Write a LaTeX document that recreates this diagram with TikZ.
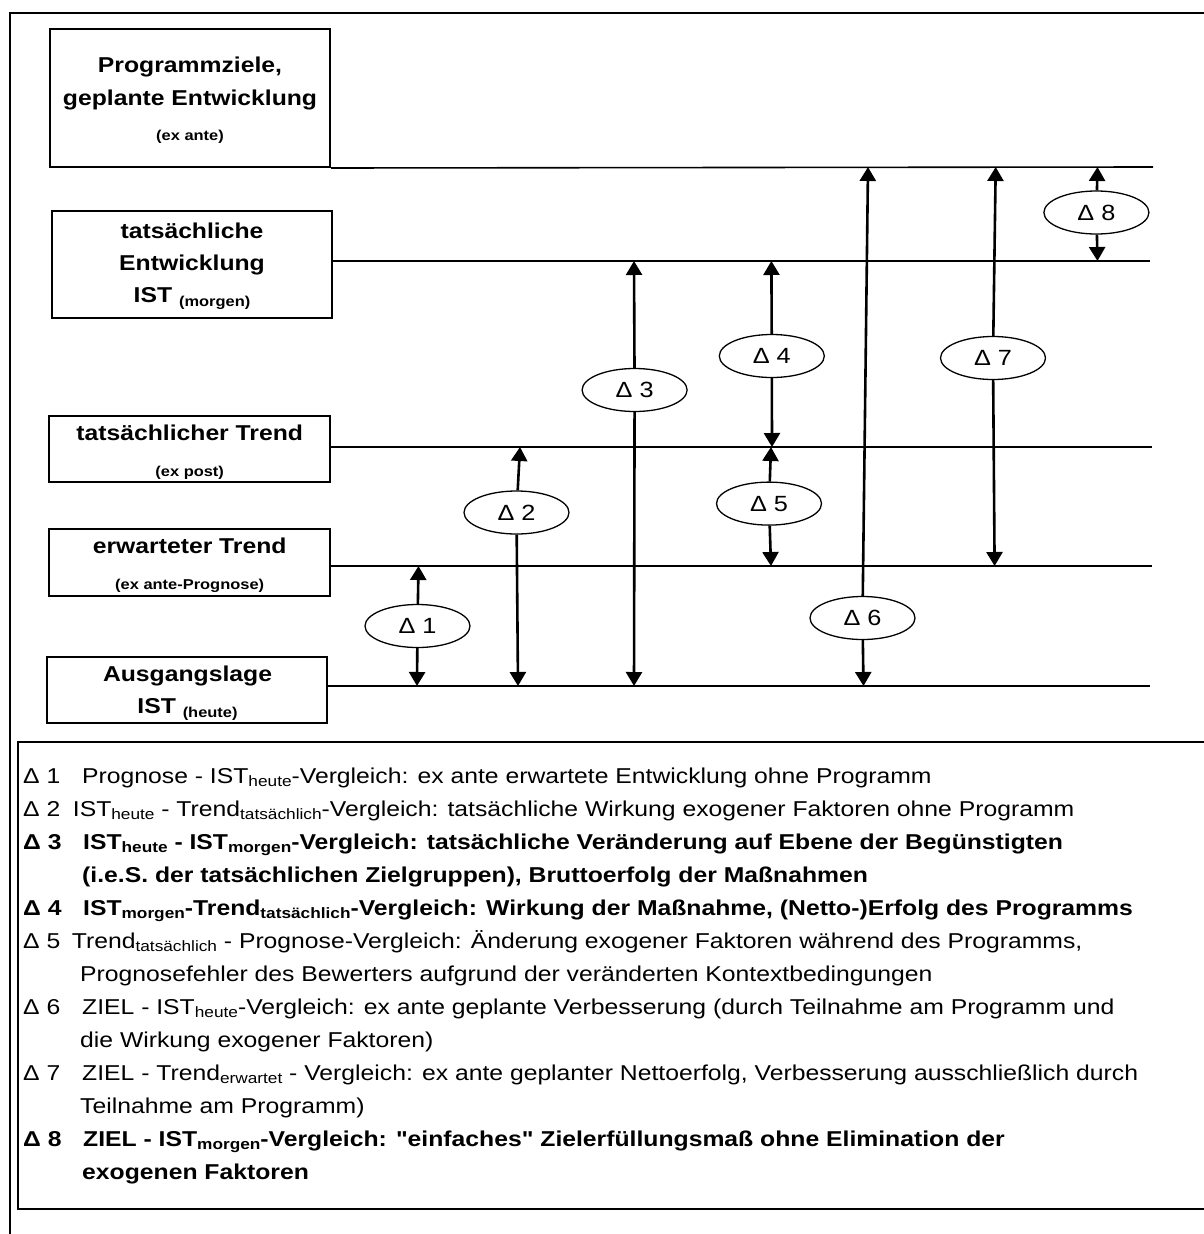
\documentclass[tikz,border=0pt]{standalone}
\usepackage{fontspec}
\setmainfont{Liberation Sans}[FakeStretch=1.15, Ligatures=TeXOff]
\usetikzlibrary{shapes.geometric,arrows.meta}
% lowered small index text in the legend and in the boxes
\newcommand{\lsub}[1]{\raisebox{-3.5pt}{\fontsize{15}{15}\selectfont #1}}
\newcommand{\bsub}[1]{\raisebox{-4pt}{\fontsize{14.3}{14}\selectfont\bfseries #1}}
\begin{document}
\begin{tikzpicture}[x=1pt,y=-1pt,
  frame/.style={line width=2.2pt},
  stagebox/.style={draw, line width=2pt, inner sep=0pt},
  level/.style={line width=1.6pt},
  title/.style={font=\fontsize{21.5}{24}\selectfont\bfseries, anchor=base, inner sep=0pt},
  note/.style={font=\fontsize{14.3}{16}\selectfont\bfseries, anchor=base, inner sep=0pt},
  delta/.style={ellipse, draw, line width=1.3pt, fill=white, minimum width=105pt,
    minimum height=43pt, inner sep=0pt, font=\fontsize{22}{24}\selectfont},
  gap/.style={line width=2.6pt, -{Triangle[width=16pt,length=14pt]}},
  legtext/.style={anchor=base west, inner sep=0pt, font=\fontsize{21.5}{24}\selectfont},
  legbold/.style={legtext, font=\fontsize{21.5}{24}\selectfont\bfseries}]
\useasboundingbox (0,0) rectangle (1203,1234);

% outer frame
\draw[frame] (10,1240) -- (10,13) -- (1210,13);

% stage boxes
\node[stagebox, minimum width=280pt, minimum height=138pt] (box1) at (190,98) {};
\node[stagebox, minimum width=280pt, minimum height=107.6pt] (box2) at (191.7,264.5) {};
\node[stagebox, minimum width=280.7pt, minimum height=66.3pt] (box3) at (189.7,448.85) {};
\node[stagebox, minimum width=280.7pt, minimum height=66.7pt] (box4) at (189.7,562.35) {};
\node[stagebox, minimum width=280pt, minimum height=66.6pt] (box5) at (187.3,690) {};

\node[title] (t1a) at (190,72.7) {Programmziele,};
\node[title] (t1b) at (190,105.3) {geplante Entwicklung};
\node[note]  (t1c) at (190,140.7) {(ex ante)};
\node[title] (t2a) at (192,238.3) {tatsächliche};
\node[title] (t2b) at (192,270.7) {Entwicklung};
\node[title] (t2c) at (192,302.7) {IST \bsub{(morgen)}};
\node[title] (t3a) at (189.7,440) {tatsächlicher Trend};
\node[note]  (t3b) at (189.7,476) {(ex post)};
\node[title] (t4a) at (189.7,553.3) {erwarteter Trend};
\node[note]  (t4b) at (189.7,589.3) {(ex ante-Prognose)};
\node[title] (t5a) at (187.5,681) {Ausgangslage};
\node[title] (t5b) at (187.5,713.3) {IST \bsub{(heute)}};

% level lines
\coordinate (l1) at (1153,167);
\coordinate (l2) at (1150,261);
\coordinate (l3) at (1152,447);
\coordinate (l4) at (1152,566);
\coordinate (l5) at (1150,686);
\draw[level] (box1.south east) -- (l1);
\draw[level] (box2.east |- l2) -- (l2);
\draw[level] (box3.east |- l3) -- (l3);
\draw[level] (box4.east |- l4) -- (l4);
\draw[level] (box5.east |- l5) -- (l5);

% difference markers
\node[delta] (d1) at (417.5,626) {Δ 1};
\node[delta] (d2) at (516.5,512.5) {Δ 2};
\node[delta] (d3) at (634.6,390) {Δ 3};
\node[delta] (d4) at (771.8,356) {Δ 4};
\node[delta] (d5) at (769,503.6) {Δ 5};
\node[delta] (d6) at (862.5,618) {Δ 6};
\node[delta] (d7) at (993,358) {Δ 7};
\node[delta] (d8) at (1096.4,212.5) {Δ 8};

\coordinate (a1) at (418.5,566); \coordinate (b1) at (417,686);
\coordinate (a2) at (520,447);   \coordinate (b2) at (518,686);
\coordinate (a3) at (634,261);   \coordinate (b3) at (634,686);
\coordinate (a4) at (771.4,261); \coordinate (b4) at (772,447);
\coordinate (a5) at (771,447);   \coordinate (b5) at (771,566);
\coordinate (a6) at (868,167);   \coordinate (b6) at (863.5,686);
\coordinate (a7) at (995.7,167); \coordinate (b7) at (994.6,566);
\coordinate (a8) at (1097.5,167);\coordinate (b8) at (1097.5,261);
\foreach \i in {1,...,8}{
  \draw[gap] (d\i) -- (a\i);
  \draw[gap] (d\i) -- (b\i);
}

% legend
\draw[line width=2pt] (1210,742) -- (18,742) -- (18,1209) -- (1210,1209);

\node[legtext] (k1) at (23,783) {Δ 1};
\node[legtext] (e1) at (82,783) {Prognose - IST\lsub{heute}-Vergleich: ex ante erwartete Entwicklung ohne Programm};
\node[legtext] (k2) at (23,816) {Δ 2};
\node[legtext] (e2) at (72.7,816) {IST\lsub{heute} - Trend\lsub{tatsächlich}-Vergleich: tatsächliche Wirkung exogener Faktoren ohne Programm};
\node[legbold] (k3) at (23,849) {Δ 3};
\node[legbold] (e3) at (83,849) {IST\lsub{heute} - IST\lsub{morgen}-Vergleich: tatsächliche Veränderung auf Ebene der Begünstigten};
\node[legbold] (e3b) at (82,882) {(i.e.S. der tatsächlichen Zielgruppen), Bruttoerfolg der Maßnahmen};
\node[legbold] (k4) at (23,915) {Δ 4};
\node[legbold] (e4) at (83,915) {IST\lsub{morgen}-Trend\lsub{tatsächlich}-Vergleich: Wirkung der Maßnahme, (Netto-)Erfolg des Programms};
\node[legtext] (k5) at (23,948) {Δ 5};
\node[legtext] (e5) at (71.7,948) {Trend\lsub{tatsächlich} - Prognose-Vergleich: Änderung exogener Faktoren während des Programms,};
\node[legtext] (e5b) at (80,981) {Prognosefehler des Bewerters aufgrund der veränderten Kontextbedingungen};
\node[legtext] (k6) at (23,1014) {Δ 6};
\node[legtext] (e6) at (82,1014) {ZIEL - IST\lsub{heute}-Vergleich: ex ante geplante Verbesserung (durch Teilnahme am Programm und};
\node[legtext] (e6b) at (80,1047) {die Wirkung exogener Faktoren)};
\node[legtext] (k7) at (23,1080) {Δ 7};
\node[legtext] (e7) at (82,1080) {ZIEL - Trend\lsub{erwartet} - Vergleich: ex ante geplanter Nettoerfolg, Verbesserung ausschließlich durch};
\node[legtext] (e7b) at (80,1113) {Teilnahme am Programm)};
\node[legbold] (k8) at (23,1146) {Δ 8};
\node[legbold] (e8) at (83,1146) {ZIEL - IST\lsub{morgen}-Vergleich: "einfaches" Zielerfüllungsmaß ohne Elimination der};
\node[legbold] (e8b) at (82,1179) {exogenen Faktoren};
\end{tikzpicture}
\end{document}
